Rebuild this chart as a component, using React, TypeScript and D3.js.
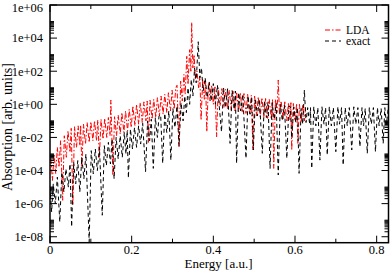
import React, { useRef, useEffect } from "react";
import * as d3 from "d3";

// spectra: [energy in a.u., log10 of absorption]
const ldaSpectrum: [number, number][] = [
  [0.002, -3.3], [0.006, -4.6], [0.01, -3.0], [0.014, -4.2], [0.018, -2.6],
  [0.022, -3.8], [0.026, -2.2], [0.031, -5.8], [0.035, -1.9], [0.04, -3.2],
  [0.044, -1.6], [0.049, -2.9], [0.052, -1.45], [0.056, -6.1], [0.06, -1.35],
  [0.065, -2.6], [0.069, -1.3], [0.073, -2.5], [0.075, -1.25], [0.078, -3.8],
  [0.082, -1.2], [0.087, -2.4], [0.091, -1.1], [0.096, -2.3], [0.1, -1.05],
  [0.105, -2.2], [0.109, -1.0], [0.114, -2.2], [0.117, -0.95], [0.121, -3.2],
  [0.125, -0.9], [0.13, -2.1], [0.134, -0.85], [0.139, -2.0], [0.143, -0.8],
  [0.147, -1.9], [0.149, 0.26], [0.151, -1.5], [0.154, -4.3], [0.158, -0.75],
  [0.163, -1.9], [0.167, -0.65], [0.172, -1.8], [0.176, -0.5], [0.181, -1.7],
  [0.185, -0.4], [0.19, -1.6], [0.194, -0.3], [0.199, -1.4], [0.203, -0.1],
  [0.208, -1.3], [0.212, 0.0], [0.217, -1.2], [0.221, 0.1], [0.226, -1.1],
  [0.23, 0.15], [0.235, -1.0], [0.238, 0.2], [0.241, -2.3], [0.245, 0.25],
  [0.25, -0.9], [0.254, 0.3], [0.259, -0.8], [0.263, 0.4], [0.268, -0.7],
  [0.272, 0.5], [0.277, -0.6], [0.281, 0.6], [0.286, -0.5], [0.29, 0.7],
  [0.295, -0.4], [0.299, 0.85], [0.304, -0.3], [0.308, 1.0], [0.311, 1.15],
  [0.316, -2.56], [0.32, 1.4], [0.324, 0.2], [0.328, 1.8], [0.331, 0.6],
  [0.335, 2.9], [0.338, 1.2], [0.342, 3.3], [0.345, 2.0], [0.347, 4.95],
  [0.35, 2.2], [0.353, 3.0], [0.356, 1.5], [0.36, 2.0], [0.364, 1.0],
  [0.367, 1.7], [0.37, -0.95], [0.374, 1.5], [0.378, 0.3], [0.381, 1.4],
  [0.384, -1.66], [0.388, 1.3], [0.392, 0.2], [0.396, 1.15], [0.4, 0.0],
  [0.404, 1.05], [0.408, -1.96], [0.412, 1.0], [0.417, -0.1], [0.421, 0.95],
  [0.426, -0.2], [0.43, 0.9], [0.435, -0.3], [0.439, 0.85], [0.444, -0.35],
  [0.448, 0.8], [0.453, -0.4], [0.457, 0.75], [0.462, -0.45], [0.466, 0.7],
  [0.471, -0.5], [0.475, 0.65], [0.48, -0.55], [0.484, 0.6], [0.489, -0.6],
  [0.493, 0.55], [0.497, -2.76], [0.501, 0.5], [0.506, -0.7], [0.51, 0.45],
  [0.515, -0.75], [0.519, 0.4], [0.524, -0.8], [0.528, 0.35], [0.533, -0.85],
  [0.537, 0.3], [0.542, -0.9], [0.545, 0.3], [0.548, -3.87], [0.552, 0.3],
  [0.556, -0.5], [0.559, 1.47], [0.562, -0.6], [0.566, 0.2], [0.571, -0.9],
  [0.575, 0.15], [0.58, -1.0], [0.584, 0.1], [0.588, -1.0], [0.59, 0.1],
  [0.592, -2.76], [0.596, 0.05], [0.6, -1.0], [0.604, 0.05], [0.607, -2.36],
  [0.611, 0.0], [0.615, -1.1], [0.619, 0.0], [0.623, -1.0], [0.626, -0.1],
];

const exactSpectrum: [number, number][] = [
  [0.0, -5.0], [0.004, -6.5], [0.008, -4.8], [0.013, -6.0], [0.018, -4.4],
  [0.024, -7.1], [0.029, -4.1], [0.034, -5.3], [0.039, -3.9], [0.045, -5.0],
  [0.049, -3.6], [0.053, -7.4], [0.058, -3.5], [0.063, -4.8], [0.068, -3.4],
  [0.073, -5.3], [0.078, -3.2], [0.083, -4.5], [0.088, -3.0], [0.096, -8.3],
  [0.101, -2.8], [0.106, -4.2], [0.111, -2.7], [0.116, -4.0], [0.121, -2.6],
  [0.128, -6.7], [0.133, -2.5], [0.138, -3.7], [0.143, -2.3], [0.148, -3.6],
  [0.152, -2.1], [0.157, -4.5], [0.162, -2.0], [0.167, -3.3], [0.172, -1.9],
  [0.177, -3.2], [0.182, -1.7], [0.186, -3.0], [0.189, -1.6], [0.192, -4.45],
  [0.197, -1.5], [0.202, -2.7], [0.207, -1.4], [0.212, -2.6], [0.217, -1.3],
  [0.222, -2.4], [0.227, -1.15], [0.234, -4.07], [0.239, -1.0], [0.244, -2.2],
  [0.248, -0.9], [0.253, -3.87], [0.258, -0.8], [0.263, -2.0], [0.267, -0.7],
  [0.271, -0.65], [0.276, -3.56], [0.281, -0.55], [0.286, -1.7], [0.291, -0.4],
  [0.296, -3.37], [0.301, -0.25], [0.306, -1.4], [0.311, -0.1], [0.316, -2.5],
  [0.321, 0.1], [0.326, -1.0], [0.33, 0.5], [0.334, -0.5], [0.338, 1.0],
  [0.342, 0.0], [0.346, 1.5], [0.35, 0.5], [0.354, 2.2], [0.358, 1.3],
  [0.363, 3.78], [0.367, 1.6], [0.371, 2.2], [0.375, 0.8], [0.38, 1.6],
  [0.385, 0.4], [0.39, 1.35], [0.395, 0.2], [0.4, 1.25], [0.405, 0.0],
  [0.41, 1.15], [0.42, -1.66], [0.425, 1.0], [0.43, -0.2], [0.435, 0.95],
  [0.441, -2.36], [0.446, 0.85], [0.451, -0.3], [0.454, 0.8], [0.457, -3.56],
  [0.462, 0.7], [0.467, -0.4], [0.472, 0.6], [0.48, -3.26], [0.485, 0.5],
  [0.49, -0.6], [0.494, 0.45], [0.498, -2.76], [0.503, 0.35], [0.508, -0.7],
  [0.513, 0.3], [0.52, -2.96], [0.525, 0.2], [0.53, -0.8], [0.534, 0.15],
  [0.539, -3.87], [0.544, 0.1], [0.549, -0.9], [0.554, 0.05], [0.559, -4.27],
  [0.564, 0.0], [0.569, -1.0], [0.574, -0.05], [0.58, -3.26], [0.585, -0.1],
  [0.589, -0.15], [0.592, -2.04], [0.597, -0.15], [0.602, -1.1], [0.606, -0.2],
  [0.61, -4.17], [0.615, -0.25], [0.619, -1.2], [0.623, 0.86], [0.627, -1.1],
  [0.631, -0.2], [0.636, -1.2], [0.638, -0.2], [0.641, -3.87], [0.646, -0.15],
  [0.651, -1.3], [0.656, -0.2], [0.661, -3.37], [0.666, -0.15], [0.671, -1.2],
  [0.675, -0.2], [0.679, -3.06], [0.684, -0.15], [0.689, -1.3], [0.694, -0.2],
  [0.7, -2.86], [0.705, -0.15], [0.709, -1.2], [0.714, -0.2], [0.718, -3.67],
  [0.723, -0.2], [0.728, -1.3], [0.733, -0.2], [0.739, -2.76], [0.744, -0.15],
  [0.749, -1.2], [0.754, -0.2], [0.759, -2.56], [0.764, -0.2], [0.768, -1.3],
  [0.772, -0.25], [0.777, -2.96], [0.782, -0.2], [0.787, -1.2], [0.792, -0.2],
  [0.797, -2.86], [0.802, -0.2], [0.806, -1.3], [0.811, -0.25], [0.816, -2.36],
  [0.82, -0.2], [0.824, -1.2], [0.828, -0.3],
];

const xTicks = [0, 0.2, 0.4, 0.6, 0.8];
const xMinorTicks = [0.1, 0.3, 0.5, 0.7];
const yTickExponents = [-8, -6, -4, -2, 0, 2, 4, 6];
const seriesNames = ["LDA", "exact"];
const seriesColors = ["#ff0000", "#000000"];
const seriesDashes = ["5,2,1.5,2", "4,3"];

const App: React.FC = () => {
  const svgRef = useRef<SVGSVGElement>(null);

  useEffect(() => {
    if (!svgRef.current) return;
    const svg = d3.select(svgRef.current);
    svg.selectAll("*").remove();

    const left = 50, right = 388.5, top = 5, bottom = 242.7;
    const font = "'Liberation Serif', 'Times New Roman', serif";

    const x = d3.scaleLinear().domain([0, 0.829]).range([left, right]);
    const y = d3.scaleLog().domain([Math.pow(10, -8.36), 1e6]).range([bottom, top]);

    svg.append("defs").append("clipPath").attr("id", "plot-clip")
      .append("rect")
      .attr("x", left).attr("y", top)
      .attr("width", right - left).attr("height", bottom - top);

    const line = d3.line<[number, number]>()
      .x((d) => x(d[0]))
      .y((d) => y(Math.pow(10, d[1])));

    const plot = svg.append("g").attr("clip-path", "url(#plot-clip)");
    [ldaSpectrum, exactSpectrum].forEach((data, i) => {
      plot.append("path")
        .datum(data)
        .attr("d", line)
        .attr("fill", "none")
        .attr("stroke", seriesColors[i])
        .attr("stroke-width", 1)
        .attr("stroke-dasharray", seriesDashes[i]);
    });

    // frame
    svg.append("rect")
      .attr("x", left).attr("y", top)
      .attr("width", right - left).attr("height", bottom - top)
      .attr("fill", "none").attr("stroke", "#000").attr("stroke-width", 1.5);

    const ticks = svg.append("g").attr("stroke", "#000").attr("stroke-width", 1);
    const major = 7, minor = 4;

    // x ticks, bottom and top, pointing inward
    xTicks.forEach((t) => {
      ticks.append("line").attr("x1", x(t)).attr("x2", x(t)).attr("y1", bottom).attr("y2", bottom - major);
      ticks.append("line").attr("x1", x(t)).attr("x2", x(t)).attr("y1", top).attr("y2", top + major);
    });
    xMinorTicks.forEach((t) => {
      ticks.append("line").attr("x1", x(t)).attr("x2", x(t)).attr("y1", bottom).attr("y2", bottom - minor);
      ticks.append("line").attr("x1", x(t)).attr("x2", x(t)).attr("y1", top).attr("y2", top + minor);
    });

    // y ticks, left and right
    yTickExponents.forEach((e) => {
      const v = Math.pow(10, e);
      ticks.append("line").attr("x1", left).attr("x2", left + major).attr("y1", y(v)).attr("y2", y(v));
      ticks.append("line").attr("x1", right).attr("x2", right - major).attr("y1", y(v)).attr("y2", y(v));
      if (e >= 6) return;
      for (let k = 2; k <= 10; k++) {
        const m = k * v;
        ticks.append("line").attr("x1", left).attr("x2", left + minor).attr("y1", y(m)).attr("y2", y(m));
        ticks.append("line").attr("x1", right).attr("x2", right - minor).attr("y1", y(m)).attr("y2", y(m));
      }
    });

    // tick labels
    svg.append("g").selectAll("text").data(xTicks).enter().append("text")
      .attr("x", (d) => x(d))
      .attr("y", 254)
      .attr("text-anchor", "middle")
      .attr("font-family", font).attr("font-size", 12.5)
      .text((d) => (d === 0 ? "0" : d.toFixed(1)));

    const fmt = (e: number) => `1e${e < 0 ? "-" : "+"}${String(Math.abs(e)).padStart(2, "0")}`;
    svg.append("g").selectAll("text").data(yTickExponents).enter().append("text")
      .attr("x", 43)
      .attr("y", (d) => Math.max(y(Math.pow(10, d)) + 4.3, 11.5))
      .attr("text-anchor", "end")
      .attr("font-family", font).attr("font-size", 12.5)
      .text((d) => fmt(d));

    // axis titles
    svg.append("text")
      .attr("x", 218.5).attr("y", 268)
      .attr("text-anchor", "middle")
      .attr("font-family", font).attr("font-size", 13)
      .text("Energy [a.u.]");

    svg.append("text")
      .attr("transform", "translate(12,127) rotate(-90)")
      .attr("text-anchor", "middle")
      .attr("font-family", font).attr("font-size", 14)
      .text("Absorption [arb. units]");

    // legend
    const legend = svg.append("g");
    seriesNames.forEach((name, i) => {
      const ly = 30 + i * 11;
      legend.append("line")
        .attr("x1", 325).attr("x2", 341).attr("y1", ly).attr("y2", ly)
        .attr("stroke", seriesColors[i]).attr("stroke-width", 1.2)
        .attr("stroke-dasharray", seriesDashes[i]);
      legend.append("text")
        .attr("x", 346).attr("y", ly + 3.8)
        .attr("font-family", font).attr("font-size", 11.5)
        .text(name);
    });
  }, []);

  return (
    <svg
      ref={svgRef}
      width={390}
      height={271}
      style={{ position: "absolute", left: 0, top: 0, background: "#fff" }}
    />
  );
};

export default App;
